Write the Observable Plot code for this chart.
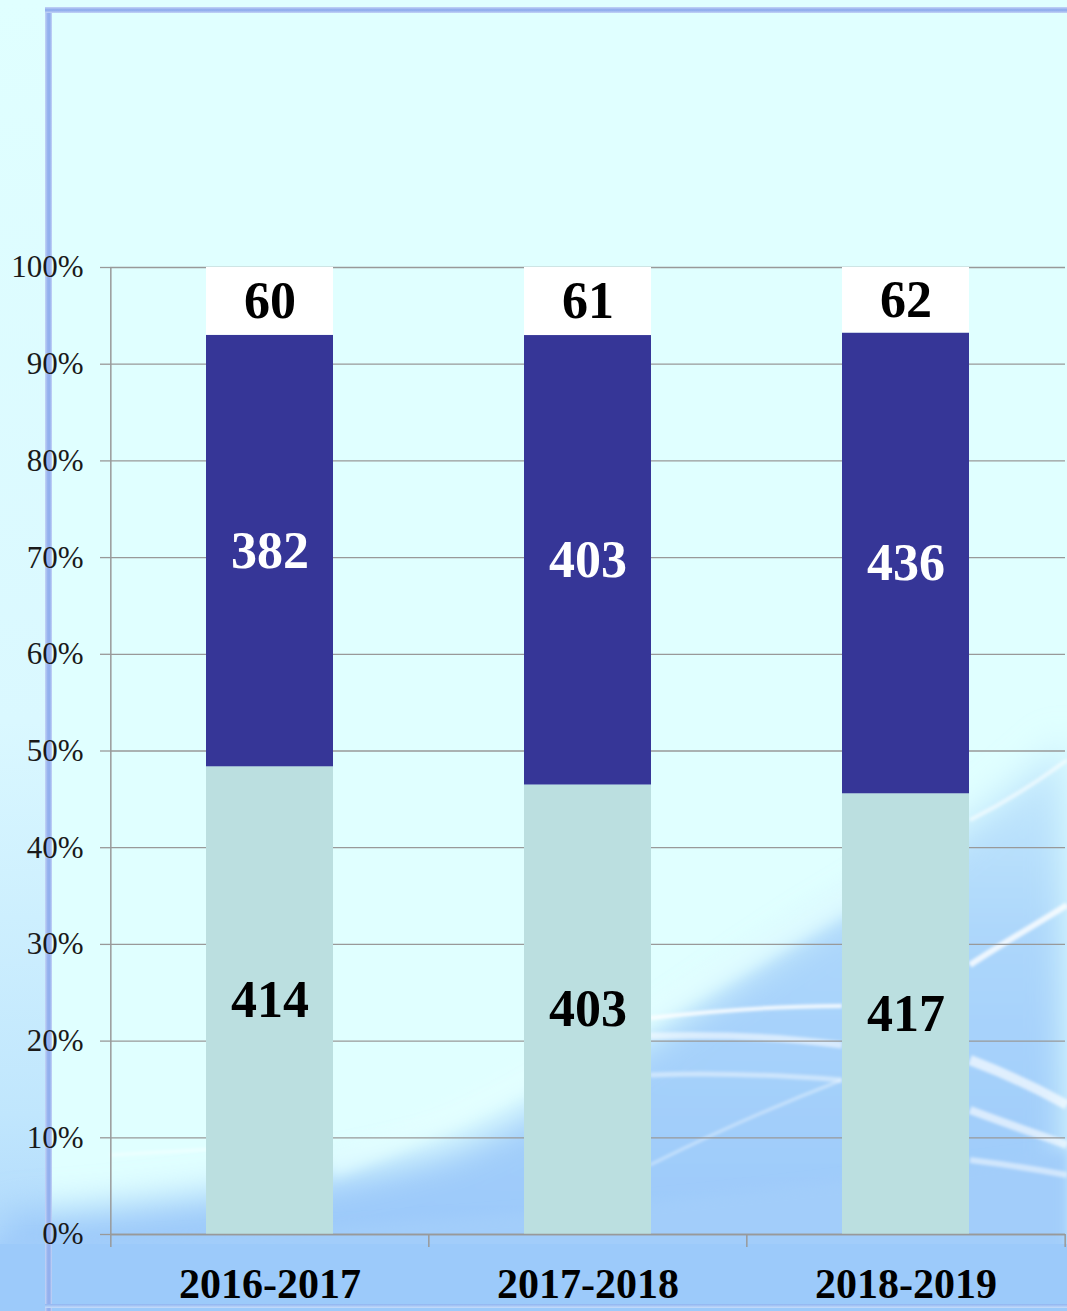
<!DOCTYPE html>
<html>
<head>
<meta charset="utf-8">
<script src="https://cdn.jsdelivr.net/npm/d3@7"></script>
<script src="https://cdn.jsdelivr.net/npm/@observablehq/plot@0.6"></script>
<style>
  html, body { margin: 0; padding: 0; }
  body { width: 1067px; height: 1311px; overflow: hidden; }
  #stage { position: relative; width: 1067px; height: 1311px; overflow: hidden; background: #e0ffff; }
  #deco { position: absolute; left: 0; top: 0; }
  #frameLeft { position: absolute; left: 45px; top: 8px; width: 7px; height: 1303px;
    background: linear-gradient(to right, #c4d4f6, #93b0ee 40%, #93b0ee 70%, #c4d4f6); }
  #frameTop { position: absolute; left: 45px; top: 7px; width: 1022px; height: 6px;
    background: linear-gradient(to bottom, #c4d4f6, #8aa8ec 50%, #c4d4f6); }
  #frameBottom { position: absolute; left: 45px; top: 1304px; width: 1022px; height: 4px;
    background: linear-gradient(to bottom, #8fb4f0, #c7ddfa); }
  #chart { position: absolute; left: 0; top: 0; }
</style>
</head>
<body>
<div id="stage">
  <svg id="deco" width="1067" height="1311" viewBox="0 0 1067 1311">
    <defs>
      <filter id="blurBig" x="-20%" y="-20%" width="140%" height="140%"><feGaussianBlur stdDeviation="18"/></filter>
      <filter id="blur" x="-20%" y="-20%" width="140%" height="140%"><feGaussianBlur stdDeviation="6"/></filter>
      <filter id="blur2" x="-20%" y="-20%" width="140%" height="140%"><feGaussianBlur stdDeviation="1.5"/></filter>
      <linearGradient id="blueGrad" x1="0" y1="0" x2="0" y2="1">
        <stop offset="0" stop-color="#c6ebfd"/>
        <stop offset="0.35" stop-color="#acd6fb"/>
        <stop offset="1" stop-color="#98c6f9"/>
      </linearGradient>
      <linearGradient id="leftGrad" x1="0" y1="0" x2="0" y2="1">
        <stop offset="0" stop-color="#e0ffff"/>
        <stop offset="0.55" stop-color="#daf8ff"/>
        <stop offset="0.85" stop-color="#c0e6fd"/>
        <stop offset="1" stop-color="#a9d3fb"/>
      </linearGradient>
    </defs>
    <rect x="0" y="0" width="1067" height="1311" fill="#e0ffff"/>
    <rect x="0" y="0" width="45" height="1311" fill="url(#leftGrad)"/>
    <!-- blue lower-right region -->
    <path d="M0 1300 L 0 1215 C 150 1205, 330 1185, 450 1150 C 600 1090, 720 980, 860 900 C 940 850, 1000 800, 1067 740 L 1067 1311 Z"
          fill="url(#blueGrad)" filter="url(#blurBig)"/>
    <path d="M0 1311 L 0 1240 C 300 1235, 700 1205, 1067 1150 L 1067 1311 Z" fill="#a2cdfa" filter="url(#blur)"/>
    <rect x="0" y="1244" width="1067" height="67" fill="#9ccafa"/>
    <!-- light tongue along the boundary -->
    <g filter="url(#blur)" fill="none" stroke="#e6ffff">
      <path d="M330 1165 C 480 1110, 620 1030, 760 950 C 820 915, 860 890, 900 870" stroke-width="26" stroke-opacity="0.55"/>
    </g>
    <g filter="url(#blur2)" fill="none" stroke="#ffffff">
      <path d="M650 1018 C 720 1010, 780 1006, 842 1006" stroke-width="4" stroke-opacity="0.85"/>
      <path d="M650 1036 C 720 1034, 790 1038, 842 1045" stroke-width="7" stroke-opacity="0.55"/>
      <path d="M650 1075 C 720 1072, 790 1076, 842 1080" stroke-width="5" stroke-opacity="0.45"/>
      <path d="M650 1165 C 720 1130, 790 1100, 842 1080" stroke-width="3" stroke-opacity="0.4"/>
      <path d="M970 965 C 1000 945, 1035 925, 1067 905" stroke-width="6" stroke-opacity="0.8"/>
      <path d="M970 820 C 1010 800, 1040 780, 1067 760" stroke-width="4" stroke-opacity="0.6"/>
      <path d="M970 1060 C 1010 1075, 1040 1090, 1067 1105" stroke-width="10" stroke-opacity="0.65"/>
      <path d="M970 1110 C 1010 1125, 1040 1135, 1067 1145" stroke-width="8" stroke-opacity="0.6"/>
      <path d="M970 1160 C 1010 1165, 1040 1170, 1067 1175" stroke-width="6" stroke-opacity="0.5"/>
      <path d="M110 1155 C 200 1150, 280 1145, 330 1140" stroke-width="3" stroke-opacity="0.45"/>
    </g>
  </svg>
  <div id="frameLeft"></div>
  <div id="frameTop"></div>
  <div id="frameBottom"></div>
  <div id="chart"></div>
</div>
<script>
// ---- Data ----
const categories = ["2016-2017", "2017-2018", "2018-2019"];
const seriesNames = ["Series 1", "Series 2", "Series 3"]; // bottom, middle, top
const series1 = [414, 403, 417];
const series2 = [382, 403, 436];
const series3 = [60, 61, 62];
const seriesColors = ["#bbdfe0", "#363697", "#ffffff"];
const labelColors = ["#000000", "#ffffff", "#000000"];
const yTicks = [0, 0.1, 0.2, 0.3, 0.4, 0.5, 0.6, 0.7, 0.8, 0.9, 1];

// ---- Table built from arrays ----
const allSeries = [series1, series2, series3];
const data = [];
allSeries.forEach((vals, si) => {
  categories.forEach((c, ci) => {
    data.push({category: c, series: seriesNames[si], value: vals[ci],
               color: seriesColors[si], labelColor: labelColors[si]});
  });
});

const W = 1067, H = 1311;
const mL = 110, mR = 2, mT = 267, mB = 77;
const xOpts = {type: "band", domain: categories, range: [mL, W - mR], paddingInner: 0.6, paddingOuter: 0.3};
const step = Plot.scale({x: xOpts}).step;

const font = "'Liberation Serif', 'Times New Roman', serif";
const gridColor = "#999999";

const chart = Plot.plot({
  width: W,
  height: H,
  marginLeft: mL,
  marginRight: mR,
  marginTop: mT,
  marginBottom: mB,
  style: {background: "transparent", fontFamily: font, color: "#111"},
  x: {domain: categories, paddingInner: 0.6, paddingOuter: 0.3, label: null},
  y: {domain: [0, 1], label: null},
  color: {type: "identity"},
  marks: [
    Plot.gridY(yTicks, {stroke: gridColor, strokeOpacity: 1, strokeWidth: 1.3}),
    Plot.barY(data, Plot.stackY({
      x: "category", y: "value", z: "series", fill: "color",
      offset: "normalize", order: seriesNames
    })),
    Plot.text(data, Plot.stackY({
      x: "category", y: "value", z: "series", text: d => String(d.value),
      fill: "labelColor", offset: "normalize", order: seriesNames,
      fontSize: 52, fontWeight: "bold", fontFamily: font
    })),
    Plot.ruleY([0], {stroke: gridColor, strokeWidth: 1.5}),
    Plot.ruleX([categories[0]], {dx: -step / 2, stroke: gridColor, strokeWidth: 1.5}),
    Plot.axisY(yTicks, {
      tickSize: 10, tickPadding: 17, tickFormat: d3.format(".0%"),
      fontSize: 31, fill: "#1a1a1a", stroke: gridColor, strokeWidth: 1.3,
      fontFamily: font, label: null
    }),
    Plot.axisX({tickSize: 0, tickPadding: 34, fontSize: 42, fontWeight: "bold",
      fill: "#000", fontFamily: font, label: null}),
    Plot.axisX(categories, {tickSize: 13, tickPadding: 0, dx: -step / 2,
      tickFormat: () => "", stroke: gridColor, strokeWidth: 1.5, label: null}),
    Plot.axisX([categories[categories.length - 1]], {tickSize: 13, tickPadding: 0, dx: step / 2,
      tickFormat: () => "", stroke: gridColor, strokeWidth: 1.5, label: null})
  ]
});
document.getElementById("chart").appendChild(chart);
</script>
</body>
</html>
